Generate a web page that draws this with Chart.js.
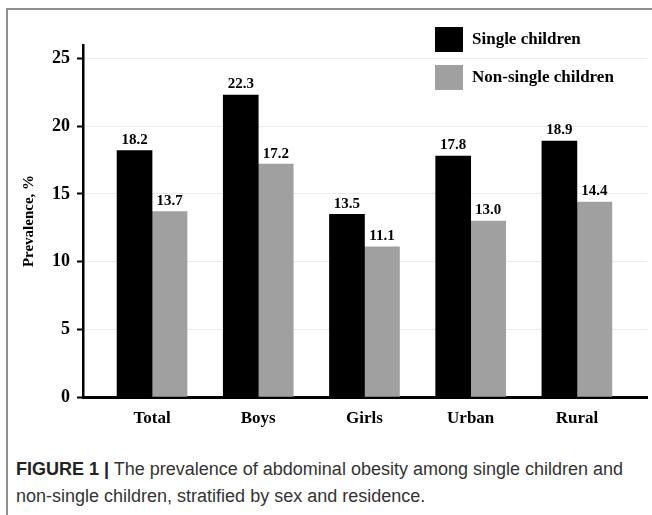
<!DOCTYPE html>
<html>
<head>
<meta charset="utf-8">
<script src="https://cdn.jsdelivr.net/npm/chart.js@4.4.1/dist/chart.umd.min.js"></script>
<style>
	body { margin: 0; background: #fff; }
	.frame {
		position: absolute;
		left: 6px;
		top: 8px;
		width: 646px;
		height: 507px;
		border-top: 2px solid #8f8f8f;
		border-left: 2px solid #8f8f8f;
		box-sizing: border-box;
	}
	#chart { position: absolute; left: 0; top: 0; }
	.caption {
		position: absolute;
		left: 16px;
		top: 456px;
		width: 630px;
		font-family: "Liberation Sans", Arial, sans-serif;
		font-size: 18px;
		line-height: 27px;
		color: #333;
	}
	.caption b { color: #222; }
	.nw { white-space: nowrap; }
</style>
</head>
<body>
<div class="frame"></div>
<canvas id="chart" width="652" height="450"></canvas>
<div class="caption"><b>FIGURE 1 |</b> The prevalence of abdominal obesity among single children and <span class="nw">non-single</span> children, stratified by sex and residence.</div>

<script>
const categories = ['Total', 'Boys', 'Girls', 'Urban', 'Rural'];
const singleChildren = [18.2, 22.3, 13.5, 17.8, 18.9];
const nonSingleChildren = [13.7, 17.2, 11.1, 13.0, 14.4];
const seriesNames = ['Single children', 'Non-single children'];
const yTicks = [0, 5, 10, 15, 20, 25];

const SERIF = '"Liberation Serif", "Times New Roman", serif';

// bars sit on a linear x scale so the gap at both ends can be wider than half a category
function toPoints(values) {
	return values.map((v, i) => ({ x: i, y: v }));
}

const valueLabels = {
	id: 'valueLabels',
	afterDatasetsDraw(chart) {
		const ctx = chart.ctx;
		ctx.save();
		ctx.font = 'bold 15px ' + SERIF;
		ctx.fillStyle = '#000';
		ctx.textAlign = 'center';
		ctx.textBaseline = 'bottom';
		chart.data.datasets.forEach((ds, di) => {
			const meta = chart.getDatasetMeta(di);
			meta.data.forEach((bar, i) => {
				ctx.fillText(ds.data[i].y.toFixed(1), bar.x, bar.y - 3);
			});
		});
		ctx.restore();
	}
};

const boxLegend = {
	id: 'boxLegend',
	afterDraw(chart) {
		const ctx = chart.ctx;
		const left = chart.chartArea.right - 212;
		ctx.save();
		ctx.font = 'bold 17px ' + SERIF;
		ctx.textBaseline = 'middle';
		chart.data.datasets.forEach((ds, i) => {
			const top = 27 + i * 38;
			ctx.fillStyle = ds.backgroundColor;
			ctx.fillRect(left, top, 28, 25);
			ctx.fillStyle = '#000';
			ctx.fillText(ds.label, left + 37, top + 13);
		});
		ctx.restore();
	}
};

new Chart(document.getElementById('chart'), {
	type: 'bar',
	data: {
		datasets: [
			{
				label: seriesNames[0],
				data: toPoints(singleChildren),
				backgroundColor: '#000000',
				barThickness: 35
			},
			{
				label: seriesNames[1],
				data: toPoints(nonSingleChildren),
				backgroundColor: '#a0a0a0',
				barThickness: 35
			}
		]
	},
	options: {
		responsive: false,
		animation: false,
		layout: { padding: { top: 45, right: 5, left: 0, bottom: 0 } },
		plugins: {
			legend: { display: false },
			tooltip: { enabled: false }
		},
		scales: {
			x: {
				type: 'linear',
				offset: false,
				min: -0.65,
				max: 4.66,
				afterFit(scale) { scale.height = 53; },
				grid: { display: false },
				border: { display: true, color: '#000', width: 3 },
				ticks: {
					stepSize: 1,
					includeBounds: false,
					maxRotation: 0,
					autoSkip: false,
					padding: 3,
					color: '#000',
					font: { family: SERIF, size: 17, weight: 'bold' },
					callback: (v) => categories[v] ?? ''
				}
			},
			y: {
				min: 0,
				max: 26,
				afterFit(scale) { scale.width = 83; },
				afterBuildTicks(scale) { scale.ticks = yTicks.map(v => ({ value: v })); },
				grid: {
					color: '#ebebeb',
					lineWidth: 1,
					tickColor: '#000',
					tickLength: 6,
					tickWidth: 2
				},
				border: { display: true, color: '#000', width: 2.5 },
				ticks: {
					padding: 7,
					color: '#000',
					font: { family: SERIF, size: 18, weight: 'bold' }
				},
				title: {
					display: true,
					text: 'Prevalence, %',
					color: '#000',
					padding: { top: 20, bottom: 0 },
					font: { family: SERIF, size: 15, weight: 'bold' }
				}
			}
		}
	},
	plugins: [valueLabels, boxLegend]
});
</script>
</body>
</html>
